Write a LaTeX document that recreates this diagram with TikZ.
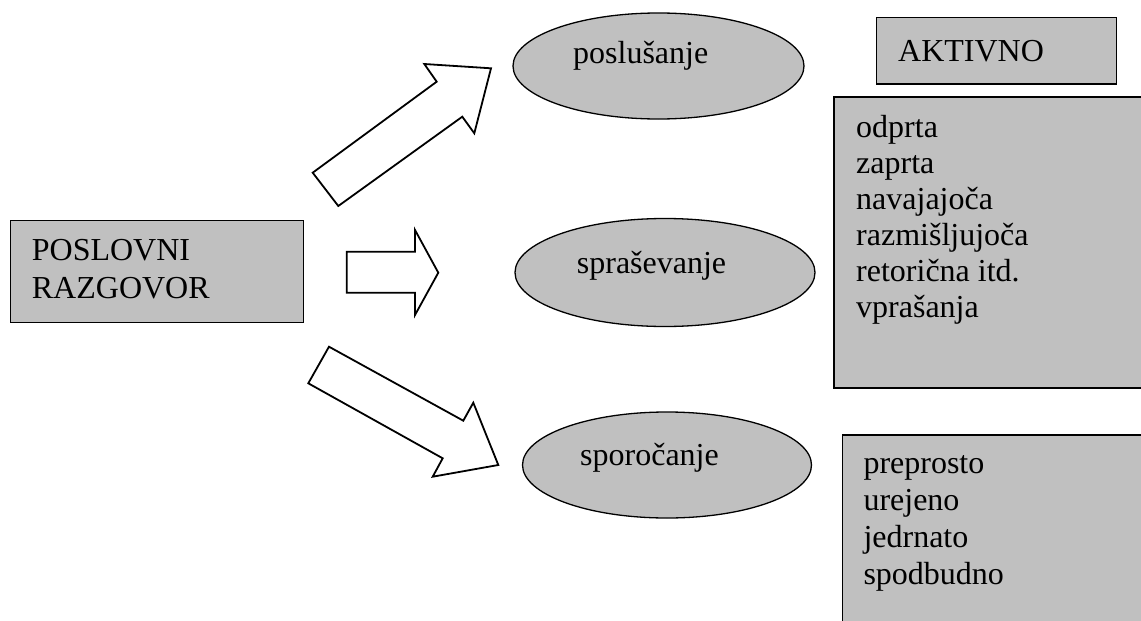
\documentclass[tikz,border=0pt]{standalone}
\usepackage{fontspec}
\setmainfont{Liberation Serif}
\usetikzlibrary{shapes.geometric}
\definecolor{boxgray}{HTML}{C0C0C0}
\begin{document}
\begin{tikzpicture}[x=1pt,y=-1pt,
  gbox/.style={draw=black, line width=1.5pt, fill=boxgray, inner sep=0pt, outer sep=0pt},
  ell/.style={ellipse, draw=black, line width=1.3pt, fill=boxgray, inner sep=0pt},
  txt/.style={inner sep=0pt, anchor=base west, font=\fontsize{32}{36}\selectfont},
  blockarrow/.style={draw=black, line width=1.8pt, fill=white, line join=miter}]
\useasboundingbox (0,0) rectangle (1141,621);

% boxes
\node[gbox, minimum width=292.6pt, minimum height=102pt] (pr) at (157,271.7) {};
\node[gbox, minimum width=240pt, minimum height=66.7pt] (akt) at (996.7,50.7) {};
\node[gbox, minimum width=316pt, minimum height=291pt] (vpr) at (992,242.5) {};
\node[gbox, minimum width=307.3pt, minimum height=195pt] (spo) at (996.35,532.5) {};

% ellipses
\node[ell, minimum width=291pt, minimum height=106pt] (e1) at (658.5,66) {};
\node[ell, minimum width=300pt, minimum height=108pt] (e2) at (665,272.5) {};
\node[ell, minimum width=289pt, minimum height=106pt] (e3) at (667,465) {};

% block arrows
\draw[blockarrow] (312.7,172.7) -- (436.7,81.7) -- (424.3,64) -- (491,68.3) -- (474.3,133.3) -- (462.3,116.7) -- (338.3,206) -- cycle;
\draw[blockarrow] (346.7,251.7) -- (415,251.7) -- (415,230) -- (438.3,272.7) -- (415,315) -- (415,292.7) -- (346.7,292.7) -- cycle;
\draw[blockarrow] (329,346.7) -- (463.3,420.7) -- (473.3,402.7) -- (498.3,465) -- (432.7,476.7) -- (442.7,458.3) -- (308.3,383.3) -- cycle;

% texts
\node[txt] (t1) at (31.7,260) {POSLOVNI};
\node[txt] (t2) at (31.7,298) {RAZGOVOR};
\node[txt] (t3) at (898,61.7) {AKTIVNO};
\node[txt] (t4) at (573,63) {poslušanje};
\node[txt] (t5) at (576.7,273.3) {spraševanje};
\node[txt] (t6) at (580,465) {sporočanje};

\node[txt] (v1) at (856,137) {odprta};
\node[txt] (v2) at (856,173) {zaprta};
\node[txt] (v3) at (856,209) {navajajoča};
\node[txt] (v4) at (856,245) {razmišljujoča};
\node[txt] (v5) at (856,281) {retorična itd.};
\node[txt] (v6) at (856,317) {vprašanja};

\node[txt] (s1) at (863.3,473.3) {preprosto};
\node[txt] (s2) at (863.3,510.3) {urejeno};
\node[txt] (s3) at (863.3,547.3) {jedrnato};
\node[txt] (s4) at (863.3,584.3) {spodbudno};
\end{tikzpicture}
\end{document}
